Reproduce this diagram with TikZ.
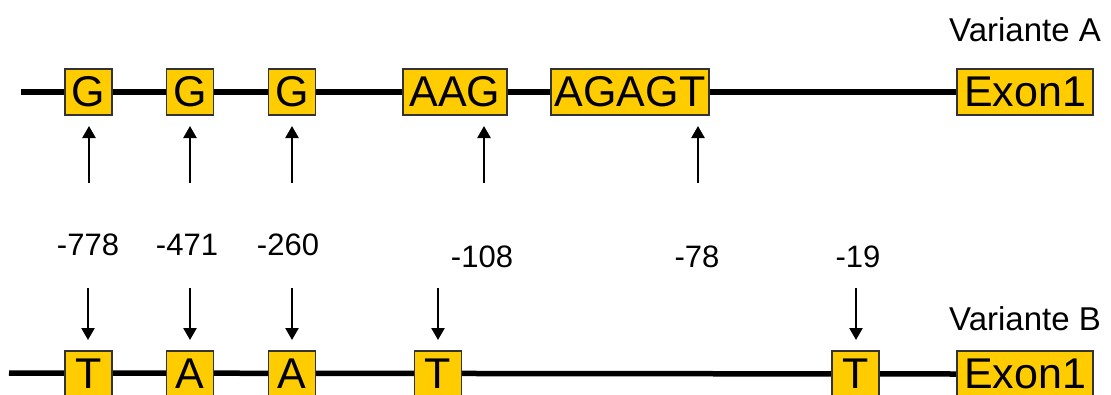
\documentclass[tikz,border=0pt]{standalone}
\usepackage{fontspec}
\setmainfont{Liberation Sans}
\usetikzlibrary{arrows.meta,backgrounds}
\definecolor{baseyellow}{HTML}{FFCC00}

\begin{document}
\begin{tikzpicture}[x=1pt,y=-1pt,
    base/.style={draw=black!80, line width=1.5pt, fill=baseyellow, inner sep=0pt,
                 minimum height=46pt, font=\fontsize{43}{43}\selectfont},
    strand/.style={line width=5.5pt},
    poslabel/.style={font=\fontsize{31}{31}\selectfont},
    variant/.style={font=\fontsize{33}{33}\selectfont}]
\clip (0,0) rectangle (1111,394);
% Variante A
	\node [variant] (varA) at (1025,30) {Variante A};
	\coordinate (startA) at (21,92);
	\node [base, minimum width=47pt ] (gA1) at (88.5,92) {G};
	\node [base, minimum width=47pt ] (gA2) at (190,92) {G};
	\node [base, minimum width=47pt ] (gA3) at (292,92) {G};
	\node [base, minimum width=104pt] (aag) at (455,92) {AAG};
	\node [base, minimum width=158pt] (agagt) at (630,92) {AGAGT};
	\node [base, minimum width=136pt] (exonA) at (1025,92) {Exon1};
% Variante B
	\node [variant] (varB) at (1025,319) {Variante B};
	\coordinate (startB) at (9,373);
	\node [base, minimum width=47pt ] (tB1) at (88.5,374) {T};
	\node [base, minimum width=47pt ] (aB2) at (190,374) {A};
	\node [base, minimum width=47pt ] (aB3) at (292,374) {A};
	\node [base, minimum width=47pt ] (tB4) at (438,374) {T};
	\node [base, minimum width=47pt ] (tB5) at (855.5,374) {T};
	\node [base, minimum width=136pt] (exonB) at (1025,374) {Exon1};
\begin{scope}[on background layer]
	\draw [strand] (startA) -- (exonA.west);
	\draw [strand] (startB) -- (exonB.west);
\end{scope}
% Positionen
	\node [poslabel] (p778) at (88,245) {-778};
	\node [poslabel] (p471) at (187,245) {-471};
	\node [poslabel] (p260) at (288,245) {-260};
	\node [poslabel] (p108) at (482,257) {-108};
	\node [poslabel] (p78) at (697,257) {-78};
	\node [poslabel] (p19) at (858,257) {-19};
\begin{scope}[line width=2.5pt, -{Triangle[length=12pt,width=13pt]}]
	\foreach \x/\n in {89/1, 190/2, 292/3, 484/4, 698/5} {
		\coordinate (upS\n) at (\x,183);
		\coordinate (upE\n) at (\x,126);
		\draw (upS\n) -- (upE\n);
	}
	\foreach \x/\n in {88/1, 190/2, 292/3, 438/4, 856/5} {
		\coordinate (dnS\n) at (\x,288);
		\coordinate (dnE\n) at (\x,340);
		\draw (dnS\n) -- (dnE\n);
	}
\end{scope}
\end{tikzpicture}
\end{document}
